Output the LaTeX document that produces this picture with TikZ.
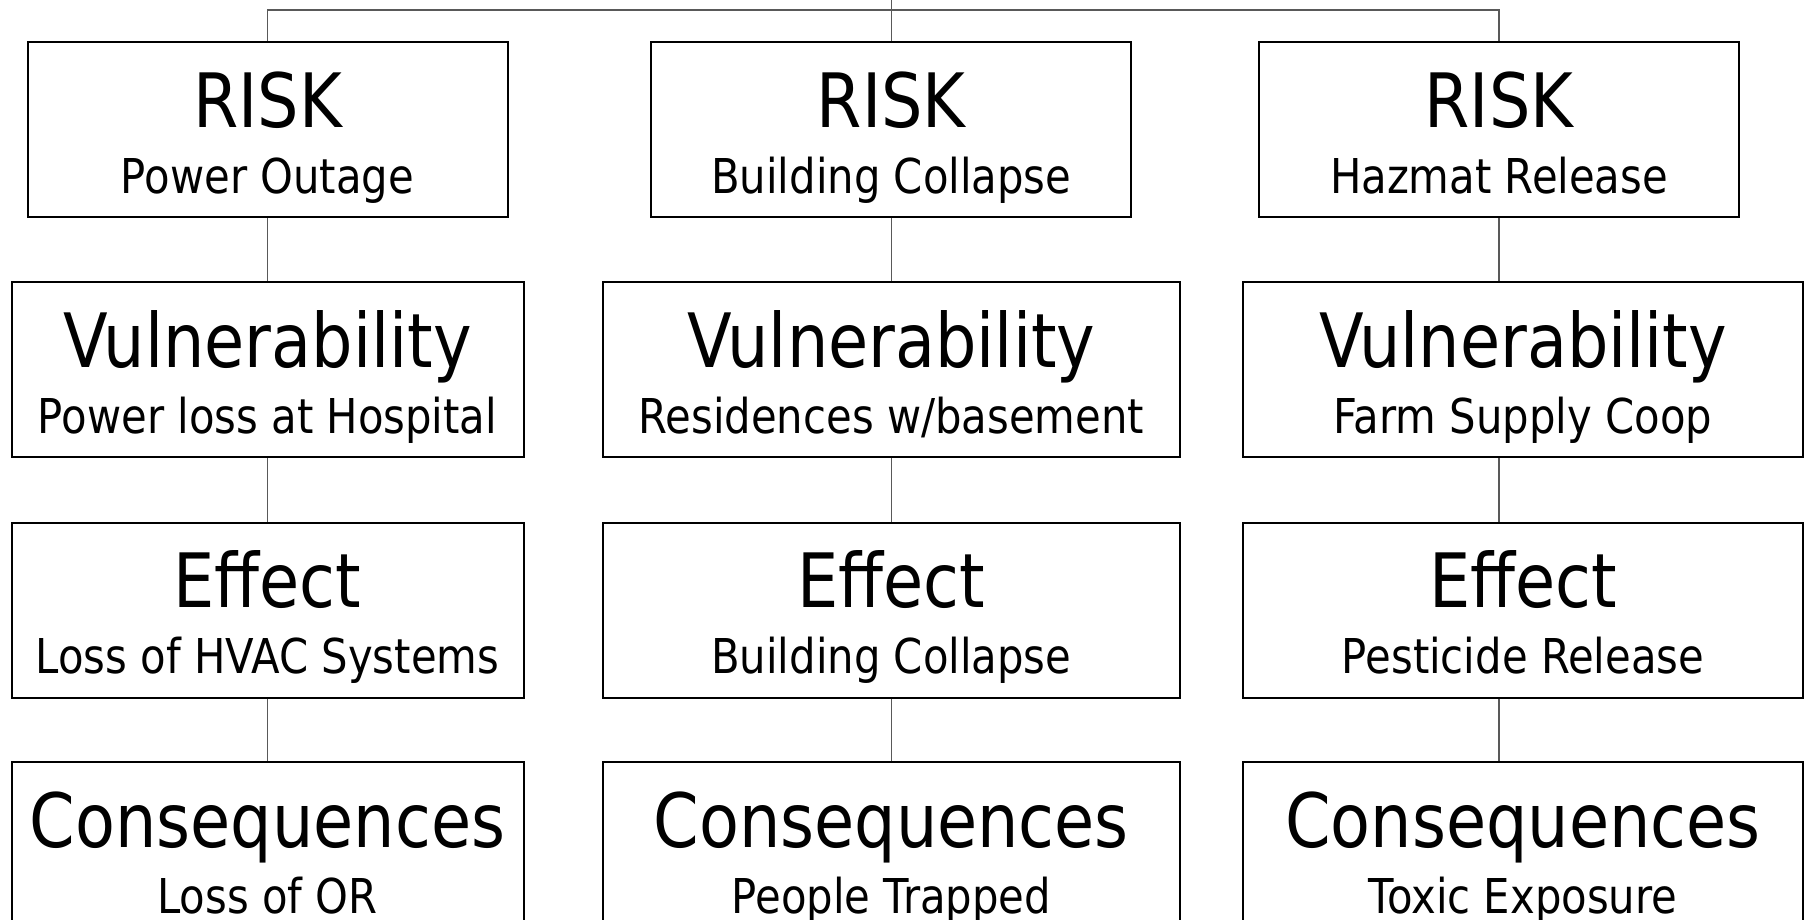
\documentclass[tikz,border=0pt]{standalone}
\usepackage{fontspec}
\setmainfont{DejaVu Sans}[FakeStretch=0.87]
\newcommand\headfont{\fontsize{75}{66}\selectfont}
\newcommand\subfont{\fontsize{48}{66}\selectfont}
\begin{document}
\begin{tikzpicture}[x=1pt,y=-1pt,
	box/.style={draw, rectangle, line width=2pt, inner sep=0pt, minimum height=175pt,
		align=center, font=\subfont, text height=127pt, text depth=0pt},
	narrow/.style={box, minimum width=480pt},
	wide/.style={box, minimum width=#1},
	link/.style={draw=black!65, line width=1.5pt}]
		\useasboundingbox (0,0) rectangle (1808,920);

		\node (box1) [narrow] at (267.5,129.7) {{\headfont RISK}\\Power Outage};
		\node (box2) [wide=512pt] at (267.5,369.6) {{\headfont Vulnerability}\\Power loss at Hospital};
		\node (box3) [wide=512pt] at (267.5,610) {{\headfont Effect}\\Loss of HVAC Systems};
		\node (box4) [wide=512pt] at (267.5,849.7) {{\headfont Consequences}\\Loss of OR};
		\node (box5) [narrow] at (891.3,129.7) {{\headfont RISK}\\Building Collapse};
		\node (box6) [wide=577pt] at (891.3,369.6) {{\headfont Vulnerability}\\Residences w/basement};
		\node (box7) [wide=577pt] at (891.3,610) {{\headfont Effect}\\Building Collapse};
		\node (box8) [wide=577pt] at (891.3,849.7) {{\headfont Consequences}\\People Trapped};
		\node (box9) [narrow] at (1499,129.7) {{\headfont RISK}\\Hazmat Release};
		\node (box10) [wide=560pt] at (1523,369.6) {{\headfont Vulnerability}\\Farm Supply Coop};
		\node (box11) [wide=560pt] at (1523,610) {{\headfont Effect}\\Pesticide Release};
		\node (box12) [wide=560pt] at (1523,849.7) {{\headfont Consequences}\\Toxic Exposure};
		\coordinate (top) at (891.3,0);
		\coordinate (bus) at (891.3,10);

		% Lines
		\draw[link] (top) -- (box5);
		\draw[link] (box1.north) |- (bus) -| (box9.north);
		\draw[link] (box1) -- (box2);
		\draw[link] (box2) -- (box3);
		\draw[link] (box3) -- (box4);
		\draw[link] (box5) -- (box6);
		\draw[link] (box6) -- (box7);
		\draw[link] (box7) -- (box8);
		\draw[link] (box9) -- (box10.north -| box9);
		\draw[link] (box10.south -| box9) -- (box11.north -| box9);
		\draw[link] (box11.south -| box9) -- (box12.north -| box9);
\end{tikzpicture}
\end{document}
